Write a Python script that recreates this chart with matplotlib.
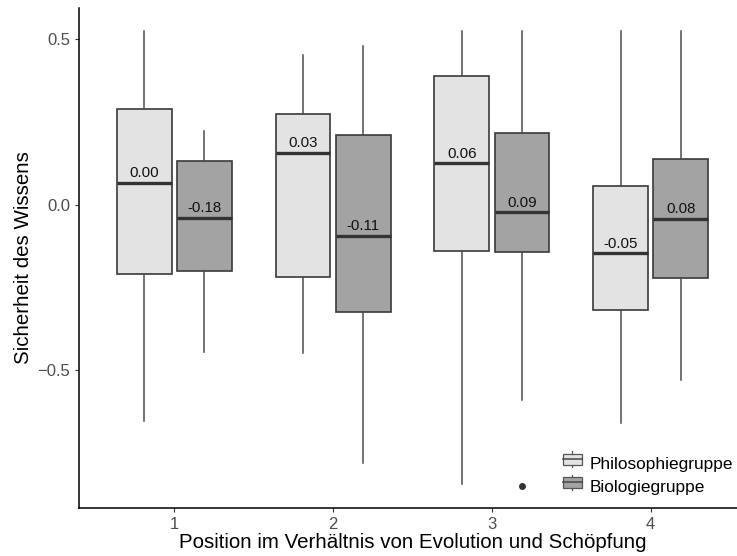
import matplotlib
matplotlib.use("Agg")
import matplotlib.pyplot as plt
from matplotlib.patches import Rectangle
from matplotlib.lines import Line2D
from matplotlib.legend_handler import HandlerBase

plt.rcParams['font.family'] = ['Liberation Sans', 'DejaVu Sans']

positions = [1, 2, 3, 4]
groups = ["Philosophiegruppe", "Biologiegruppe"]

# box statistics
philo_whislo = [-0.654, -0.449, -0.844, -0.660]
philo_q1 = [-0.210, -0.219, -0.140, -0.319]
philo_med = [0.065, 0.156, 0.125, -0.147]
philo_q3 = [0.289, 0.273, 0.388, 0.056]
philo_whishi = [0.524, 0.452, 0.524, 0.524]
philo_fliers = [[], [], [], []]
philo_means = ["0.00", "0.03", "0.06", "-0.05"]

bio_whislo = [-0.446, -0.781, -0.590, -0.530]
bio_q1 = [-0.200, -0.325, -0.143, -0.222]
bio_med = [-0.041, -0.095, -0.023, -0.044]
bio_q3 = [0.131, 0.210, 0.216, 0.137]
bio_whishi = [0.222, 0.479, 0.524, 0.524]
bio_fliers = [[], [], [-0.850], []]
bio_means = ["-0.18", "-0.11", "0.09", "0.08"]

fills = ["#e3e3e3", "#a3a3a3"]
edge = "#3a3a3a"
dodge = 0.19
bw = 0.345

fig = plt.figure(figsize=(7.37, 5.56), dpi=100)
# panel runs a little past the right edge (picture is cropped there)
ax = fig.add_axes([79 / 737, 1 - 508 / 556, 667 / 737, 500 / 556])


def make_stats(wl, q1, med, q3, wh, fl):
    return [dict(whislo=a, q1=b, med=c, q3=d, whishi=e, fliers=f)
            for a, b, c, d, e, f in zip(wl, q1, med, q3, wh, fl)]


sets = [
    (make_stats(philo_whislo, philo_q1, philo_med, philo_q3, philo_whishi, philo_fliers), philo_med, philo_means, -dodge),
    (make_stats(bio_whislo, bio_q1, bio_med, bio_q3, bio_whishi, bio_fliers), bio_med, bio_means, dodge),
]

for (stats, meds, means, off), fc in zip(sets, fills):
    pos = [p + off for p in positions]
    ax.bxp(stats, positions=pos, widths=bw, patch_artist=True, showcaps=False,
           boxprops=dict(facecolor=fc, edgecolor=edge, linewidth=1.2),
           medianprops=dict(color="#333333", linewidth=2.4),
           whiskerprops=dict(color="#4d4d4d", linewidth=1.1),
           flierprops=dict(marker="o", markerfacecolor="#333333", markeredgecolor="#333333", markersize=4),
           zorder=2)
    for x, m, t in zip(pos, meds, means):
        ax.text(x, m + 0.008, t, ha="center", va="bottom", fontsize=10.8, color="#111111", zorder=3)

ax.set_xlim(0.4, 4.6)
ax.set_ylim(-0.917, 0.594)
ax.set_xticks(positions)
ax.set_xticklabels([str(p) for p in positions])
ax.set_yticks([-0.5, 0.0, 0.5])
ax.set_yticklabels(["\u22120.5", "0.0", "0.5"])
ax.tick_params(axis="both", colors="#333333", labelcolor="#4d4d4d", labelsize=12, length=3)
for s in ["top", "right"]:
    ax.spines[s].set_visible(False)
for s in ["left", "bottom"]:
    ax.spines[s].set_linewidth(1.1)
    ax.spines[s].set_color("black")

ax.set_xlabel("Position im Verhältnis von Evolution und Schöpfung", fontsize=14.8, labelpad=1)
ax.set_ylabel("Sicherheit des Wissens", fontsize=14.8, labelpad=3)


class BoxHandler(HandlerBase):
    def create_artists(self, legend, orig, xd, yd, width, height, fontsize, trans):
        fc = orig.get_facecolor()
        cx = xd + width / 2
        w = width
        h = height * 0.72
        y0 = yd + (height - h) / 2
        r = Rectangle((cx - w / 2, y0), w, h, facecolor=fc,
                      edgecolor="#555555", linewidth=0.9, transform=trans)
        m = Line2D([cx - w / 2, cx + w / 2], [yd + height / 2] * 2, color="#444444", linewidth=1.1, transform=trans)
        t = Line2D([cx, cx], [y0 + h, yd + height], color="#555555", linewidth=0.9, transform=trans)
        b = Line2D([cx, cx], [yd, y0], color="#555555", linewidth=0.9, transform=trans)
        return [r, m, t, b]


handles = [Rectangle((0, 0), 1, 1, facecolor=f) for f in fills]
ax.legend(handles, groups, loc="upper left", bbox_to_anchor=(563 / 737, 1 - 455 / 556),
          bbox_transform=fig.transFigure, frameon=False, borderpad=0, borderaxespad=0,
          fontsize=12.4, handler_map={Rectangle: BoxHandler()}, handlelength=1.1,
          handleheight=1.0, handletextpad=0.45, labelspacing=0.38)

fig.savefig("out.png", dpi=100)
